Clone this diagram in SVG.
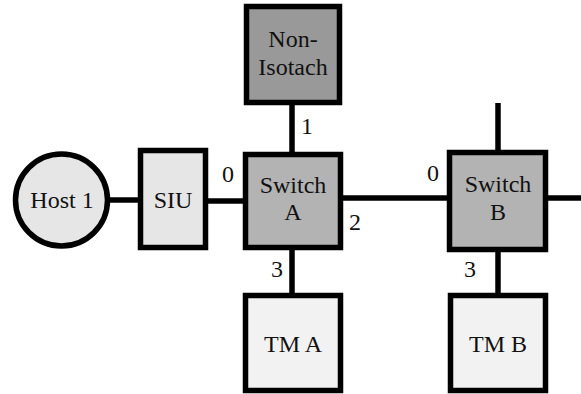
<svg xmlns="http://www.w3.org/2000/svg" width="581" height="394" viewBox="0 0 581 394">
<style>
.n{stroke:#000;stroke-width:5.5}
.c{stroke:#000;stroke-width:5.5;fill:none}
svg text, text.t{font-family:'Liberation Serif',serif !important;font-size:24px;fill:#111;text-anchor:middle}
</style>
<rect width="581" height="394" fill="#fff"/>
<g id="connectors">
<line class="c" x1="108" y1="200" x2="140" y2="200"/>
<line class="c" x1="206" y1="201" x2="245" y2="201"/>
<line class="c" x1="292" y1="103" x2="292" y2="155"/>
<line class="c" x1="341" y1="198" x2="449" y2="198"/>
<line class="c" x1="498" y1="103" x2="498" y2="152"/>
<line class="c" x1="546" y1="198" x2="581" y2="198"/>
<line class="c" x1="292" y1="246" x2="292" y2="295"/>
<line class="c" x1="498" y1="250" x2="498" y2="295"/>
<text class="t" x="228" y="182" font-family="Liberation Serif">0</text>
<text class="t" x="307" y="134" font-family="Liberation Serif">1</text>
<text class="t" x="355" y="230" font-family="Liberation Serif">2</text>
<text class="t" x="277" y="277" font-family="Liberation Serif">3</text>
<text class="t" x="433" y="181" font-family="Liberation Serif">0</text>
<text class="t" x="470" y="277" font-family="Liberation Serif">3</text>
</g>
<g id="host1">
<circle class="n" cx="61.5" cy="200" r="46" fill="#e6e6e6"/>
<text class="t" x="62" y="208" font-family="Liberation Serif">Host 1</text>
</g>
<g id="siu">
<rect class="n" x="140.5" y="150.5" width="65" height="97" fill="#e6e6e6"/>
<text class="t" x="173" y="208" font-family="Liberation Serif">SIU</text>
</g>
<g id="nonisotach">
<rect class="n" x="246.5" y="6.5" width="93" height="96" fill="#999"/>
<text class="t" x="293" y="47" font-family="Liberation Serif">Non-</text>
<text class="t" x="293" y="75" font-family="Liberation Serif">Isotach</text>
</g>
<g id="switchA">
<rect class="n" x="245.5" y="154.5" width="95" height="93" fill="#b3b3b3"/>
<text class="t" x="293" y="193" font-family="Liberation Serif">Switch</text>
<text class="t" x="293" y="220" font-family="Liberation Serif">A</text>
</g>
<g id="switchB">
<rect class="n" x="449.5" y="152.5" width="96" height="97" fill="#b3b3b3"/>
<text class="t" x="498" y="192" font-family="Liberation Serif">Switch</text>
<text class="t" x="498" y="220" font-family="Liberation Serif">B</text>
</g>
<g id="tmA">
<rect class="n" x="245.5" y="295.5" width="95" height="95" fill="#f2f2f2"/>
<text class="t" x="293" y="352" font-family="Liberation Serif">TM A</text>
</g>
<g id="tmB">
<rect class="n" x="450.5" y="295.5" width="95" height="95" fill="#f2f2f2"/>
<text class="t" x="498" y="352" font-family="Liberation Serif">TM B</text>
</g>
</svg>
